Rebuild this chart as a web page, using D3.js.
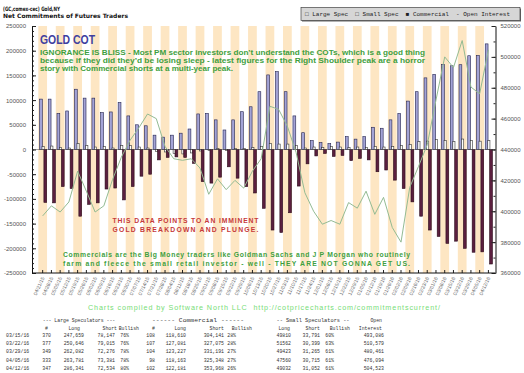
<!DOCTYPE html>
<html>
<head>
<meta charset="utf-8">
<script src="https://cdn.jsdelivr.net/npm/d3@7"></script>
<style>
  body { margin: 0; background: #fff; }
  svg { display: block; }
</style>
</head>
<body>
<div id="chart"></div>
<script>
// weekly COT report dates
const dates = [
  '04/21/15','04/28/15','05/05/15','05/12/15','05/19/15','05/26/15','06/02/15','06/09/15','06/16/15','06/23/15',
  '06/30/15','07/07/15','07/14/15','07/21/15','07/28/15','08/04/15','08/11/15','08/18/15','08/25/15','09/01/15',
  '09/08/15','09/15/15','09/22/15','09/29/15','10/06/15','10/13/15','10/20/15','10/27/15','11/03/15','11/10/15',
  '11/17/15','11/24/15','12/01/15','12/08/15','12/15/15','12/22/15','12/29/15','01/05/16','01/12/16','01/19/16',
  '01/26/16','02/02/16','02/09/16','02/16/16','02/23/16','03/01/16','03/08/16','03/15/16','03/22/16','03/29/16',
  '04/05/16','04/12/16'
];
const largeSpec = [
  102000,102000,73000,78000,122000,104000,104000,74500,76000,95000,
  68000,50000,48000,29000,25000,29000,33000,41500,72000,73000,
  60000,39500,60000,76500,86500,117000,151000,157500,117000,68000,
  34000,18000,14000,12000,15000,26000,21000,26000,45000,43000,
  60000,73000,98000,117000,145000,152000,172000,169512,171631,189806,
  190400,213807
];
const smallSpec = [
  6000,7000,4000,3000,12000,8000,5000,6000,3000,8000,
  8000,5000,3000,-4000,-5000,-8000,-9000,-7000,-3000,-2000,
  2000,-2000,2000,2000,4000,6000,12000,11000,11000,8000,
  3000,5000,4000,6000,5000,4000,5000,4000,6000,5000,
  6000,8000,10000,16000,17000,20000,18000,16019,21163,18158,
  16845,17980
];
const commercial = [
  -107000,-108000,-75000,-79000,-135000,-111000,-108000,-80000,-78000,-102000,
  -75000,-54000,-50000,-21000,-16000,-15000,-16000,-28000,-65000,-68000,
  -56000,-35000,-58000,-75000,-88000,-119000,-163000,-168000,-128000,-74000,
  -29000,-13000,-8000,-14000,-12000,-22600,-18000,-21000,-45000,-41500,
  -62000,-79000,-106000,-135000,-163000,-176000,-190000,-185531,-199994,-207964,
  -207185,-231787
];
const openInterest = [
  397000,403500,399500,406000,426000,413000,399500,403500,420600,435000,
  446000,454000,463000,460000,442000,434000,433000,434000,428000,411000,
  421000,414000,420000,415000,426000,434000,468000,466000,455000,438000,
  412000,400000,391600,394000,391600,405600,402000,413000,398000,409000,
  389500,380000,415500,429000,443000,472000,500000,493086,510579,480461,
  476094,504523
];
const leftTicks = [-250000,-200000,-150000,-100000,-50000,0,50000,100000,150000,200000,250000];
const rightTicks = [360000,380000,400000,420000,440000,460000,480000,500000,520000];

// summary table under the chart
const tableRows = [
  ['03/15/16','370','247,659','78,147','76%','108','118,610','304,141','28%','49810','33,791','60%','493,086'],
  ['03/22/16','377','250,646','79,015','76%','107','127,081','327,075','28%','51562','30,399','63%','510,579'],
  ['03/29/16','349','262,082','72,276','78%','104','123,227','331,191','27%','49423','31,265','61%','480,461'],
  ['04/05/16','333','263,781','73,381','78%','98','118,163','325,348','27%','47560','30,715','61%','476,094'],
  ['04/12/16','347','286,341','72,534','80%','102','122,181','353,968','26%','49032','31,052','61%','504,523']
];

const W = 524, H = 373;
const plot = { left: 32, right: 495.5, top: 26, bottom: 273 };
const sans = 'Liberation Sans, Arial, sans-serif';
const mono = 'Liberation Mono, DejaVu Sans Mono, monospace';
const cw = 2.9; // squeezed width of one table character

const svg = d3.select('#chart').append('svg')
  .attr('width', W)
  .attr('height', H)
  .style('background', '#fff');

const x = d3.scaleBand().domain(dates).range([38.3, 38.3 + dates.length * 8.74]);
const bw = x.bandwidth();
const yL = d3.scaleLinear().domain([-250000, 250000]).range([plot.bottom, plot.top]);
const yR = d3.scaleLinear().domain([360000, 520000]).range([plot.bottom, plot.top]);

// alternating background stripes
svg.append('g').selectAll('rect')
  .data(dates.filter((d, i) => i % 2 === 0))
  .join('rect')
  .attr('x', d => x(d))
  .attr('width', bw)
  .attr('y', plot.top)
  .attr('height', plot.bottom - plot.top)
  .attr('fill', '#fde6c3');

// bars
const bars = [
  { vals: largeSpec, off: 1.2, w: 2.8, fill: '#a3a3d6', stroke: '#23234f' },
  { vals: smallSpec, off: 3.7, w: 2.2, fill: '#ffffff', stroke: '#333333' },
  { vals: commercial, off: 5.6, w: 2.8, fill: '#5b1f3f', stroke: '#2a0a1a' }
];
bars.forEach(s => {
  svg.append('g').selectAll('rect')
    .data(dates)
    .join('rect')
    .attr('x', (d, i) => x(d) + s.off)
    .attr('width', s.w)
    .attr('y', (d, i) => yL(Math.max(0, s.vals[i])))
    .attr('height', (d, i) => Math.abs(yL(s.vals[i]) - yL(0)))
    .attr('fill', s.fill)
    .attr('stroke', s.stroke)
    .attr('stroke-width', 0.6);
});

// zero line
svg.append('line')
  .attr('x1', plot.left).attr('x2', plot.right)
  .attr('y1', yL(0)).attr('y2', yL(0))
  .attr('stroke', '#444').attr('stroke-width', 0.5);

// open interest line
svg.append('path')
  .datum(dates)
  .attr('fill', 'none')
  .attr('stroke', '#93bb93')
  .attr('stroke-width', 1)
  .attr('d', d3.line()
    .x(d => x(d) + bw / 2)
    .y((d, i) => yR(openInterest[i])));

// axes
function styleAxis(g) {
  g.selectAll('text').attr('font-size', 6).attr('fill', '#555').attr('font-family', sans);
  g.selectAll('line').attr('stroke', '#222');
  g.select('.domain').attr('stroke', '#111');
}

svg.append('g').attr('transform', `translate(${plot.left},0)`)
  .call(d3.axisLeft(yL).tickValues(leftTicks).tickFormat(d => String(d))
    .tickSizeInner(-4).tickSizeOuter(0).tickPadding(6))
  .call(styleAxis);
svg.append('g').attr('transform', `translate(${plot.left},0)`)
  .call(d3.axisLeft(yL).tickValues(d3.range(-250000, 250001, 10000)).tickFormat('').tickSize(-2))
  .call(g => g.select('.domain').remove())
  .call(g => g.selectAll('line').attr('stroke', '#222'));

svg.append('g').attr('transform', `translate(${plot.right},0)`)
  .call(d3.axisRight(yR).tickValues(rightTicks).tickFormat(d => String(d))
    .tickSizeInner(-4).tickSizeOuter(0).tickPadding(5))
  .call(styleAxis);
svg.append('g').attr('transform', `translate(${plot.right},0)`)
  .call(d3.axisRight(yR).tickValues(d3.range(360000, 520001, 10000)).tickFormat('').tickSize(-2))
  .call(g => g.select('.domain').remove())
  .call(g => g.selectAll('line').attr('stroke', '#222'));

const gB = svg.append('g').attr('transform', `translate(0,${plot.bottom})`)
  .call(d3.axisBottom(x).tickSizeInner(-3).tickSizeOuter(0))
  .call(styleAxis)
  .call(g => g.select('.domain').remove());
gB.selectAll('text')
  .attr('font-size', 5)
  .attr('fill', '#666')
  .attr('y', 0).attr('dy', 0)
  .attr('text-anchor', 'end')
  .attr('transform', 'translate(2,5) rotate(-65)');
svg.append('line')
  .attr('x1', plot.left).attr('x2', plot.right)
  .attr('y1', plot.bottom).attr('y2', plot.bottom)
  .attr('stroke', '#111');

// titles
svg.append('text').attr('x', 3).attr('y', 11)
  .attr('font-family', 'DejaVu Sans, Verdana, sans-serif').attr('font-weight', 'bold')
  .attr('font-size', 6).attr('fill', '#111')
  .attr('textLength', 57).attr('lengthAdjust', 'spacingAndGlyphs')
  .text('(GC,comex-cec) Gold,NY');
svg.append('text').attr('x', 3).attr('y', 17.5)
  .attr('font-family', 'DejaVu Sans, Verdana, sans-serif').attr('font-weight', 'bold')
  .attr('font-size', 6).attr('fill', '#111')
  .attr('textLength', 125).attr('lengthAdjust', 'spacingAndGlyphs')
  .text('Net Commitments of Futures Traders');

// legend
svg.append('rect').attr('x', 302).attr('y', 8.5).attr('width', 219).attr('height', 13).attr('fill', '#666');
svg.append('rect').attr('x', 301).attr('y', 7.5).attr('width', 219).attr('height', 13)
  .attr('fill', '#d6d6d6').attr('stroke', '#444').attr('stroke-width', 0.7);
svg.append('text').attr('x', 305).attr('y', 16.4)
  .attr('font-family', mono).attr('font-size', 6).attr('fill', '#222')
  .attr('xml:space', 'preserve')
  .attr('textLength', 205).attr('lengthAdjust', 'spacingAndGlyphs')
  .text('□ Large Spec  □ Small Spec  ■ Commercial  - Open Interest');

// annotations
svg.append('text').attr('x', 40).attr('y', 43.5)
  .attr('font-family', sans).attr('font-weight', 'bold').attr('font-size', 12.5)
  .attr('fill', '#3f3f9f')
  .attr('textLength', 55).attr('lengthAdjust', 'spacingAndGlyphs')
  .text('GOLD COT');

const noteLines = [
  ['IGNORANCE IS BLISS - Most PM sector investors don\u2019t understand the COTs, which is a good thing', 385],
  ['because if they did they\u2019d be losing sleep - latest figures for the Right Shoulder peak are a horror', 385],
  ['story with Commercial shorts at a multi-year peak.', 193]
];
noteLines.forEach((l, i) => {
  svg.append('text').attr('x', 40).attr('y', 54.8 + i * 8.3)
    .attr('font-family', sans).attr('font-weight', 'bold').attr('font-size', 7.4)
    .attr('fill', '#3f9f3f')
    .attr('textLength', l[1]).attr('lengthAdjust', 'spacingAndGlyphs')
    .text(l[0]);
});

['THIS DATA POINTS TO AN IMMINENT', 'GOLD BREAKDOWN AND PLUNGE.'].forEach((t, i) => {
  svg.append('text').attr('x', 112.5).attr('y', 223 + i * 8.6)
    .attr('font-family', sans).attr('font-weight', 'bold').attr('font-size', 6.8)
    .attr('fill', '#c63a3a')
    .attr('textLength', 146).attr('lengthAdjust', 'spacing')
    .text(t);
});

['Commercials are the Big Money traders like Goldman Sachs and J P Morgan who routinely',
 'farm and fleece the small retail investor - well - THEY ARE NOT GONNA GET US.'].forEach((t, i) => {
  svg.append('text').attr('x', 63).attr('y', 257 + i * 8.5)
    .attr('font-family', sans).attr('font-weight', 'bold').attr('font-size', 6.8)
    .attr('fill', '#3f9f3f')
    .attr('textLength', 347).attr('lengthAdjust', 'spacing')
    .text(t);
});

svg.append('text').attr('x', 88).attr('y', 309.5)
  .attr('font-family', sans).attr('font-size', 7.2).attr('fill', '#77dd77')
  .attr('xml:space', 'preserve')
  .attr('textLength', 352).attr('lengthAdjust', 'spacing')
  .text('Charts compiled by Software North LLC  http://cotpricecharts.com/commitmentscurrent/');

// table
const tbl = svg.append('g')
  .attr('font-family', mono).attr('font-size', 5.8).attr('fill', '#333');
function cell(t, xx, yy, anchor, len) {
  tbl.append('text').attr('x', xx).attr('y', yy).attr('text-anchor', anchor)
    .attr('xml:space', 'preserve')
    .attr('textLength', len || t.length * cw).attr('lengthAdjust', 'spacingAndGlyphs')
    .text(t);
}
cell('--- Large Speculators ---', 79, 322, 'middle');
cell('------ Commercial ------', 198, 322, 'middle', 92);
cell('-- Small Speculators --', 313, 322, 'middle', 73);
cell('Open', 382, 322, 'end');
const head2 = [['#', 48], ['Long', 80], ['Short', 117], ['Bullish', 139], ['#', 155], ['Long', 186],
  ['Short', 224], ['Bullish', 252], ['Long', 290], ['Short', 320], ['Bullish', 350], ['Interest', 382]];
head2.forEach(h => cell(h[0], h[1], 329.5, 'end'));

const colEnd = [null, 51, 84, 115, 129, 155, 186, 224, 236, 291, 320, 334, 384];
tableRows.forEach((r, ri) => {
  const yy = 337 + ri * 8.2;
  r.forEach((v, ci) => cell(v, ci === 0 ? 6 : colEnd[ci], yy, ci === 0 ? 'start' : 'end'));
});
</script>
</body>
</html>
